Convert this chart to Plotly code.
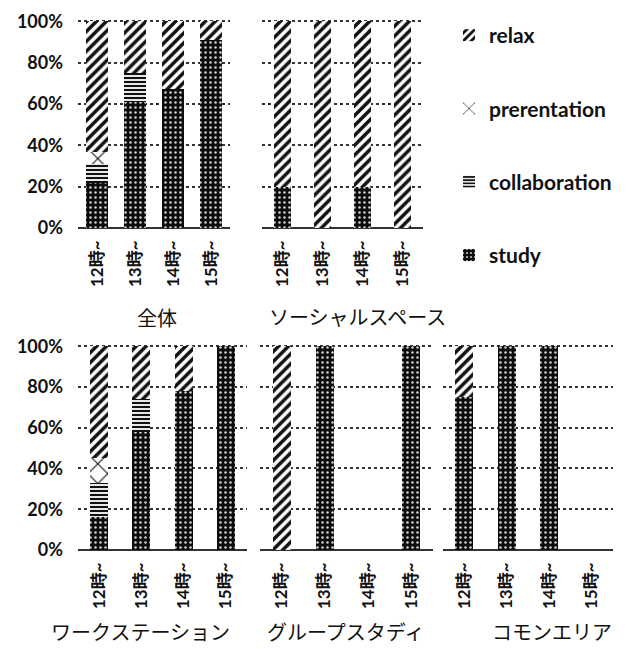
import plotly.graph_objects as go

categories = ["12時~", "13時~", "14時~", "15時~"]
panels = ["全体", "ソーシャルスペース", "ワークステーション", "グループスタディ", "コモンエリア"]
series_names = ["study", "collaboration", "prerentation", "relax"]
y_ticks = [0, 20, 40, 60, 80, 100]
y_tick_labels = ["0%", "20%", "40%", "60%", "80%", "100%"]

# values in percent, per panel
study = {
    "全体": [22, 61, 67, 91],
    "ソーシャルスペース": [20, 0, 20, 0],
    "ワークステーション": [16, 58, 78, 100],
    "グループスタディ": [0, 100, 0, 100],
    "コモンエリア": [75, 100, 100, 0],
}
collaboration = {
    "全体": [9, 14, 0, 0],
    "ソーシャルスペース": [0, 0, 0, 0],
    "ワークステーション": [17, 16, 0, 0],
    "グループスタディ": [0, 0, 0, 0],
    "コモンエリア": [0, 0, 0, 0],
}
prerentation = {
    "全体": [6, 0, 0, 0],
    "ソーシャルスペース": [0, 0, 0, 0],
    "ワークステーション": [12, 0, 0, 0],
    "グループスタディ": [0, 0, 0, 0],
    "コモンエリア": [0, 0, 0, 0],
}
relax = {
    "全体": [63, 25, 33, 9],
    "ソーシャルスペース": [80, 100, 80, 100],
    "ワークステーション": [55, 26, 22, 0],
    "グループスタディ": [100, 0, 0, 0],
    "コモンエリア": [25, 0, 0, 0],
}
series_data = {"study": study, "collaboration": collaboration,
               "prerentation": prerentation, "relax": relax}

# the page body adds an 8px offset; size the figure to fill the window exactly
OFF = 8
W, H = 629 - OFF, 649 - OFF


def px_x(v):
    return (v - OFF) / W


def px_y(v):
    return 1 - (v - OFF) / H


# screen pixel boxes: (x0, x1, ytop, ybottom)
boxes = {
    "全体": (78, 230, 20, 228),
    "ソーシャルスペース": (262, 423, 20, 228),
    "ワークステーション": (78, 247, 345, 550),
    "グループスタディ": (260, 433, 345, 550),
    "コモンエリア": (443, 613, 345, 550),
}
bar_width = {"全体": 0.6, "ソーシャルスペース": 0.42, "ワークステーション": 0.43,
             "グループスタディ": 0.42, "コモンエリア": 0.42}
title_pos = {
    "全体": (157, 318),
    "ソーシャルスペース": (357, 317),
    "ワークステーション": (140, 631),
    "グループスタディ": (345, 631),
    "コモンエリア": (552, 631),
}
show_yticks = {"全体": True, "ワークステーション": True}

patterns = {
    "study": dict(shape=".", bgcolor="#0d0d0d", fgcolor="#cfcfcf", size=5, solidity=0.2, fillmode="replace"),
    "collaboration": dict(shape="-", bgcolor="white", fgcolor="#111111", size=4, solidity=0.55, fillmode="replace"),
    "prerentation": dict(shape="x", bgcolor="white", fgcolor="#111111", size=14, solidity=0.15, fillmode="replace"),
    "relax": dict(shape="/", bgcolor="white", fgcolor="#111111", size=7, solidity=0.5, fillmode="replace"),
}
rank = {"relax": 1, "prerentation": 2, "collaboration": 3, "study": 4}

fig = go.Figure()
layout = {}
annotations = []
for i, p in enumerate(panels):
    idx = "" if i == 0 else str(i + 1)
    xa, ya = "x" + idx, "y" + idx
    x0, x1, yt, yb = boxes[p]
    for s in series_names:
        fig.add_trace(go.Bar(
            x=categories, y=series_data[s][p], name=s,
            xaxis=xa, yaxis=ya, width=bar_width[p],
            marker=dict(color="white", pattern=patterns[s], line=dict(width=0)),
            legendgroup=s, showlegend=(i == 0), legendrank=rank[s],
        ))
    layout["xaxis" + idx] = dict(
        domain=[px_x(x0), px_x(x1)], anchor=ya, type="category",
        categoryorder="array", categoryarray=categories,
        range=[-0.5, 3.5], tickangle=-90, showgrid=False, showline=False,
        ticks="", ticklabelstandoff=8, automargin=False,
        tickfont=dict(family="Lato, Noto Sans CJK JP", size=17, color="#111", weight="bold"),
    )
    layout["yaxis" + idx] = dict(
        domain=[px_y(yb), px_y(yt)], anchor=xa, range=[0, 100.6],
        tickvals=y_ticks, ticktext=y_tick_labels,
        showticklabels=show_yticks.get(p, False),
        showgrid=True, gridcolor="#333", gridwidth=2, griddash="dot",
        zeroline=True, zerolinecolor="#333", zerolinewidth=2,
        showline=False, ticks="", ticklabelstandoff=14, automargin=False,
        tickfont=dict(family="Lato, Noto Sans CJK JP", size=18, color="#111", weight="bold"),
    )
    tx, ty = title_pos[p]
    annotations.append(dict(
        text=p, x=px_x(tx), y=px_y(ty), xref="paper", yref="paper",
        xanchor="center", yanchor="middle", showarrow=False,
        font=dict(family="Noto Sans CJK JP", size=20, color="#111"),
    ))

fig.update_layout(
    **layout,
    annotations=annotations,
    barmode="stack",
    width=W, height=H,
    margin=dict(l=0, r=0, t=0, b=0, autoexpand=False),
    paper_bgcolor="white", plot_bgcolor="white",
    showlegend=True,
    legend=dict(
        x=px_x(449), y=px_y(15), xanchor="left", yanchor="top",
        traceorder="grouped", tracegroupgap=43, itemwidth=30,
        font=dict(family="Lato, Open Sans", size=21, color="#111", weight="bold"),
        bgcolor="rgba(0,0,0,0)",
    ),
)

fig.write_html("out.html")
